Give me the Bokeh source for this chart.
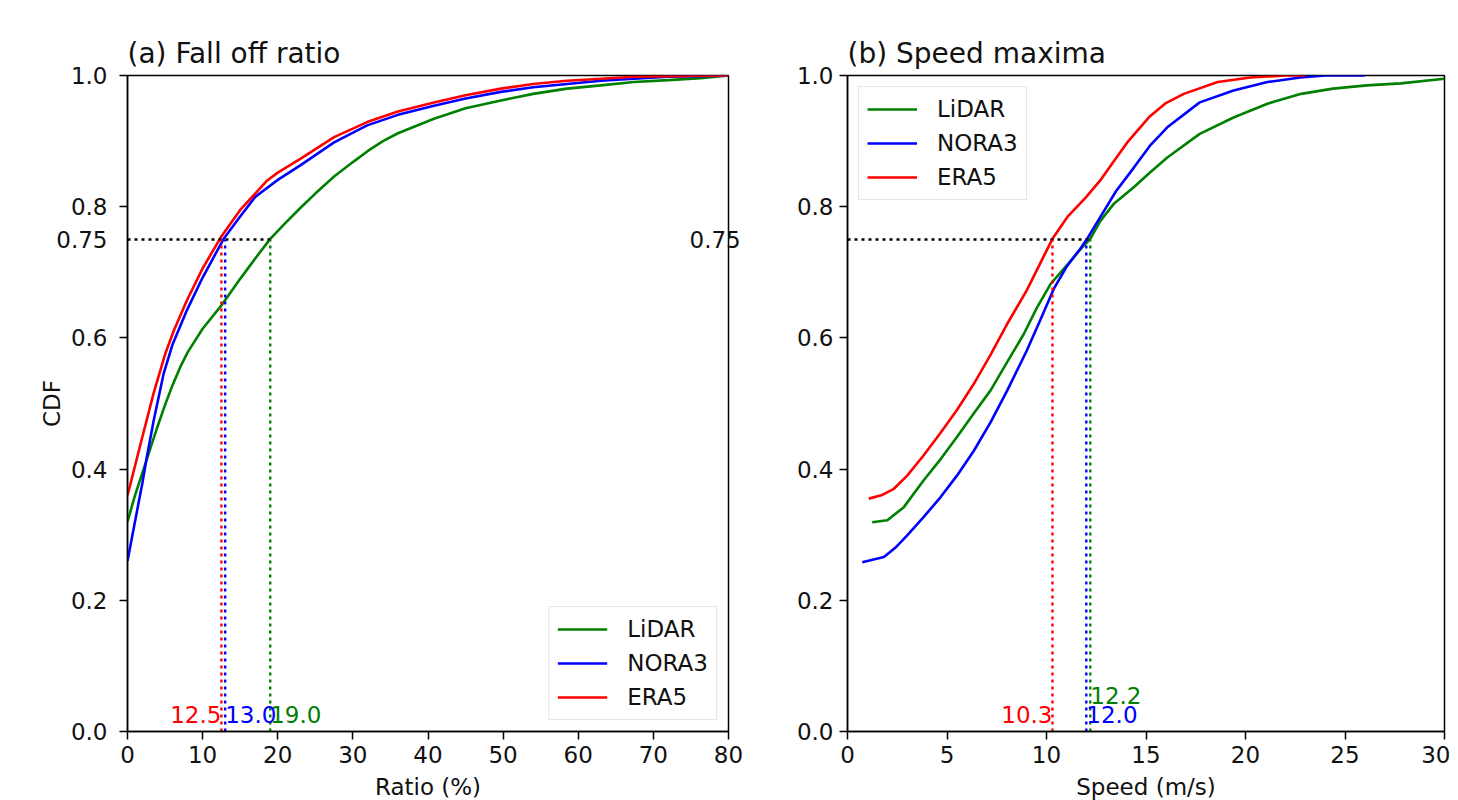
from bokeh.plotting import figure
from bokeh.layouts import row
from bokeh.models import Range1d, FixedTicker, Label, LinearAxis
from bokeh.embed import file_html
from bokeh.resources import INLINE

FONT = "DejaVu Sans"

# ---------------- data ----------------
series_names = ["LiDAR", "NORA3", "ERA5"]
series_colors = ["green", "blue", "red"]

# (a) Fall off ratio (%) -> CDF
ratio_lidar_x = [0, 1, 2, 3, 4, 5, 6, 7, 8, 10, 12.4, 15, 17, 19, 21, 23, 25, 27.5, 30, 32, 34,
                 36, 40.8, 45, 49.7, 54, 58.5, 63, 67.4, 72, 76.3, 80]
ratio_lidar_y = [0.32, 0.36, 0.395, 0.43, 0.465, 0.498, 0.528, 0.555, 0.578, 0.614, 0.648, 0.69, 0.721,
                 0.751, 0.775, 0.798, 0.82, 0.846, 0.868, 0.885, 0.9, 0.912, 0.934, 0.95, 0.962, 0.972,
                 0.98, 0.985, 0.99, 0.993, 0.996, 1.0]
ratio_nora3_x = [0, 1, 2, 2.6, 3.5, 4.8, 6, 7.9, 10, 12.8, 15, 17, 19.9, 23, 27.5, 31.9, 36,
                 40.8, 45, 49.7, 54, 58.5, 63, 67.4, 72, 76, 80]
ratio_nora3_y = [0.26, 0.32, 0.38, 0.42, 0.475, 0.545, 0.59, 0.642, 0.692, 0.751, 0.785, 0.815,
                 0.84, 0.863, 0.898, 0.924, 0.94, 0.954, 0.965, 0.975, 0.982, 0.987, 0.992, 0.995,
                 0.998, 0.999, 1.0]
ratio_era5_x = [0, 1, 2, 3.46, 5, 6.2, 7.9, 10, 12.4, 15, 18.6, 20, 23, 27.5, 31.9, 36, 40.8,
                45, 49.7, 54, 58.5, 63, 67.4, 72, 80]
ratio_era5_y = [0.36, 0.405, 0.45, 0.515, 0.575, 0.612, 0.657, 0.706, 0.753, 0.795, 0.84, 0.852,
                0.873, 0.906, 0.929, 0.945, 0.959, 0.97, 0.98, 0.987, 0.992, 0.995, 0.998, 0.999, 1.0]

# (b) Speed maxima (m/s) -> CDF
speed_lidar_x = [1.24, 2.0, 2.83, 3.83, 4.7, 5.5, 6.35, 7.19, 8.0, 8.86, 9.5, 10.2, 11.0, 11.7,
                 12.2, 12.7, 13.4, 14.4, 15.2, 16.07, 17.7, 19.4, 21.1, 22.8, 24.4, 26.1, 27.8, 30]
speed_lidar_y = [0.319, 0.322, 0.342, 0.383, 0.416, 0.449, 0.485, 0.52, 0.562, 0.606, 0.645, 0.682,
                 0.71, 0.735, 0.751, 0.778, 0.805, 0.83, 0.852, 0.875, 0.911, 0.936, 0.957, 0.972,
                 0.98, 0.985, 0.988, 0.995]
speed_nora3_x = [0.74, 1.83, 2.4, 3.0, 3.8, 4.67, 5.5, 6.35, 7.2, 8.03, 9.0, 9.7, 10.37, 11.0,
                 11.7, 12.04, 12.7, 13.5, 14.4, 15.2, 16.07, 17.7, 19.4, 21.1, 22.76, 24, 26]
speed_nora3_y = [0.258, 0.266, 0.28, 0.299, 0.326, 0.357, 0.39, 0.428, 0.472, 0.52, 0.58, 0.628,
                 0.675, 0.708, 0.736, 0.751, 0.784, 0.824, 0.86, 0.893, 0.921, 0.959, 0.977, 0.99,
                 0.997, 1.0, 1.0]
speed_era5_x = [1.07, 1.7, 2.33, 3.0, 3.8, 4.67, 5.5, 6.35, 7.2, 8.0, 9.0, 9.87, 10.3, 11.04, 12.0,
                12.7, 13.4, 14.06, 15.2, 16.0, 16.9, 18.6, 20.25, 22, 23]
speed_era5_y = [0.355, 0.36, 0.37, 0.39, 0.42, 0.455, 0.49, 0.53, 0.575, 0.62, 0.672, 0.725, 0.751,
                0.784, 0.815, 0.84, 0.87, 0.898, 0.938, 0.958, 0.972, 0.99, 0.997, 1.0, 1.0]

q_level = 0.75
ratio_q75 = [19.0, 13.0, 12.5]   # LiDAR, NORA3, ERA5
speed_q75 = [12.2, 12.0, 10.3]

y_ticks = [0.0, 0.2, 0.4, 0.6, 0.8, 1.0]
y_tick_labels = ["0.0", "0.2", "0.4", "0.6", "0.8", "1.0"]
ratio_ticks = [0, 10, 20, 30, 40, 50, 60, 70, 80]
ratio_tick_labels = ["0", "10", "20", "30", "40", "50", "60", "70", "80"]
speed_ticks = [0, 5, 10, 15, 20, 25, 30]
speed_tick_labels = ["0", "5", "10", "15", "20", "25", "30"]

ratio_curves = [(ratio_lidar_x, ratio_lidar_y), (ratio_nora3_x, ratio_nora3_y), (ratio_era5_x, ratio_era5_y)]
speed_curves = [(speed_lidar_x, speed_lidar_y), (speed_nora3_x, speed_nora3_y), (speed_era5_x, speed_era5_y)]

FS = "23px"
TEXT_COLOR = "#111111"


def style_common(ax):
    ax.major_label_text_font = FONT
    ax.major_label_text_font_size = FS
    ax.major_label_text_color = TEXT_COLOR
    ax.axis_line_color = "black"
    ax.axis_line_width = 1.5
    ax.major_tick_line_color = "black"
    ax.major_tick_line_width = 1.5
    ax.axis_label_text_font = FONT
    ax.axis_label_text_font_size = FS
    ax.axis_label_text_font_style = "normal"
    ax.axis_label_text_color = TEXT_COLOR


def make_panel(title, curves, q75, xmax, xticks, xlabels, xlabel, borders, text_specs, legend_loc,
               extra_y_label=None):
    bl, br, bt, bb, fw = borders
    p = figure(frame_width=fw, frame_height=656, x_range=Range1d(0, xmax), y_range=Range1d(0, 1),
               output_backend="svg", toolbar_location=None, title=title,
               min_border_left=bl, min_border_right=br, min_border_top=bt, min_border_bottom=bb,
               background_fill_color="white", border_fill_color="white")

    # x axis
    p.xaxis.ticker = FixedTicker(ticks=xticks)
    p.xaxis.major_label_overrides = {t: l for t, l in zip(xticks, xlabels)}
    style_common(p.xaxis[0])
    p.xaxis.major_tick_in = 0
    p.xaxis.major_tick_out = 8
    p.xaxis.minor_tick_line_color = None
    p.xaxis.major_label_standoff = 6
    p.xaxis.axis_label = xlabel
    p.xaxis.axis_label_standoff = 8

    # y axis
    style_common(p.yaxis[0])
    if extra_y_label is not None:
        # the 0.75 level is written as a label on the axis, without a tick mark
        major = sorted(y_ticks + [extra_y_label])
        p.yaxis.ticker = FixedTicker(ticks=major, minor_ticks=y_ticks)
        labels = {t: l for t, l in zip(y_ticks, y_tick_labels)}
        labels[extra_y_label] = f"{extra_y_label:.2f}"
        p.yaxis.major_label_overrides = labels
        p.yaxis.major_tick_in = 0
        p.yaxis.major_tick_out = 0
        p.yaxis.minor_tick_in = 0
        p.yaxis.minor_tick_out = 8
        p.yaxis.minor_tick_line_color = "black"
        p.yaxis.minor_tick_line_width = 1.5
        p.yaxis.major_label_standoff = 12
        p.yaxis.axis_label = "CDF"
        p.yaxis.axis_label_standoff = -12
    else:
        p.yaxis.ticker = FixedTicker(ticks=y_ticks)
        p.yaxis.major_label_overrides = {t: l for t, l in zip(y_ticks, y_tick_labels)}
        p.yaxis.major_tick_in = 0
        p.yaxis.major_tick_out = 8
        p.yaxis.minor_tick_line_color = None
        p.yaxis.major_label_standoff = 6

    p.xgrid.grid_line_color = None
    p.ygrid.grid_line_color = None
    p.outline_line_color = "black"
    p.outline_line_width = 1.5
    p.outline_line_alpha = 1.0
    p.title.text_font = FONT
    p.title.text_font_size = "28px"
    p.title.text_font_style = "normal"
    p.title.text_color = TEXT_COLOR
    p.title.align = "left"
    p.title.standoff = 12

    for (xs, ys), name, col in zip(curves, series_names, series_colors):
        p.line(xs, ys, line_color=col, line_width=2.6, legend_label=name)

    # 0.75 quantile guides
    p.segment(x0=[0], y0=[q_level], x1=[max(q75)], y1=[q_level], line_color="black",
              line_width=2.4, line_dash="3 4")
    for v, col in zip(q75, series_colors):
        p.segment(x0=[v], y0=[0], x1=[v], y1=[q_level], line_color=col, line_width=2.4, line_dash="3 4")

    for v, col, (align, yb) in zip(q75, series_colors, text_specs):
        p.add_layout(Label(x=v, y=yb, text=f"{v:.1f}", text_align=align, text_baseline="alphabetic",
                           text_color=col, text_font=FONT, text_font_size=FS))

    lg = p.legend[0]
    lg.location = legend_loc
    lg.label_text_font = FONT
    lg.label_text_font_size = FS
    lg.label_text_color = TEXT_COLOR
    lg.glyph_width = 50
    lg.glyph_height = 28
    lg.label_height = 28
    lg.label_standoff = 20
    lg.spacing = 6
    lg.padding = 8
    lg.margin = 11
    lg.border_line_color = "#cccccc"
    lg.border_line_width = 1.5
    lg.background_fill_alpha = 0.8
    return p


p1 = make_panel("(a) Fall off ratio", ratio_curves, ratio_q75, 80, ratio_ticks, ratio_tick_labels,
                "Ratio (%)", (127, 62, 75, 69, 601),
                [("left", 0.026), ("left", 0.026), ("right", 0.026)], "bottom_right",
                extra_y_label=q_level)

# second copy of the 0.75 level, written near the right edge of panel (a)
right_ax = LinearAxis(ticker=FixedTicker(ticks=[q_level]),
                      major_label_overrides={q_level: f"{q_level:.2f}"})
style_common(right_ax)
right_ax.axis_line_color = None
right_ax.major_tick_line_color = None
right_ax.minor_tick_line_color = None
right_ax.major_label_standoff = -45
p1.add_layout(right_ax, "right")

p2 = make_panel("(b) Speed maxima", speed_curves, speed_q75, 30, speed_ticks, speed_tick_labels,
                "Speed (m/s)", (57, 6, 75, 69, 597),
                [("left", 0.055), ("left", 0.026), ("right", 0.026)], "top_left")

layout = row(p1, p2)
open("out.html", "w").write(file_html(layout, INLINE))
